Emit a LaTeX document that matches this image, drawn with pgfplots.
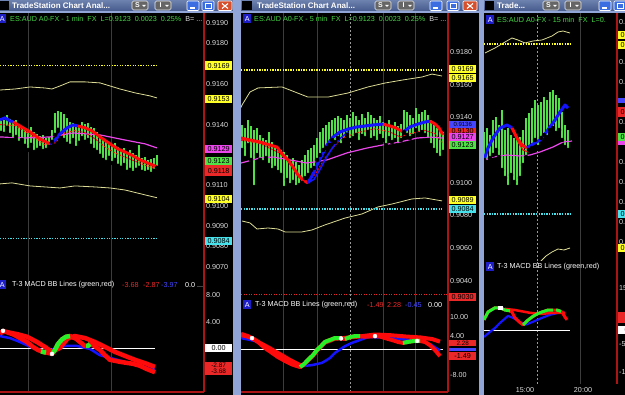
\documentclass[border=0pt]{standalone}
\usepackage{fontspec}
\setmainfont{Liberation Sans}
\usepackage{pgfplots}
\pgfplotsset{compat=1.18}

\definecolor{bargreen}{RGB}{80,225,70}
\definecolor{tred}{RGB}{255,10,10}
\definecolor{tblue}{RGB}{20,20,255}
\definecolor{mag}{RGB}{235,70,235}
\definecolor{band}{RGB}{220,220,150}
\definecolor{ydot}{RGB}{255,255,40}
\definecolor{cdot}{RGB}{70,225,235}
\definecolor{axred}{RGB}{170,20,20}
\definecolor{tickgray}{RGB}{220,220,220}
\definecolor{gridgray}{RGB}{60,60,60}
\definecolor{hdrgreen}{RGB}{70,215,70}
\definecolor{frame}{RGB}{145,165,215}
\definecolor{tbtop}{RGB}{110,130,175}
\definecolor{tbbot}{RGB}{70,90,140}
\definecolor{winblue}{RGB}{60,110,225}
\definecolor{winred}{RGB}{215,80,45}
\definecolor{lblred}{RGB}{235,40,40}
\definecolor{lblblue}{RGB}{70,70,255}
\definecolor{boxblue}{RGB}{30,30,200}
\definecolor{macdgreen}{RGB}{40,240,40}

\newcommand{\tf}{\fontsize{7.2}{8}\selectfont}

\pgfplotsset{
 tsbase/.style={
  scale only axis, anchor=north west,
  axis x line*=bottom, axis y line*=right,
  x axis line style={draw=none},
  y axis line style={draw=axred, line width=1.2pt},
  major tick length=0pt, minor tick length=0pt,
  xticklabels={},
  xmajorgrids, major x grid style={gridgray, line width=0.6pt},
  xminorgrids, minor x grid style={white!60!black, dash pattern=on 2pt off 2pt, line width=0.6pt},
  ytick style={draw=none}, xtick style={draw=none},
  yticklabel style={text=tickgray, font=\tf, anchor=west, inner sep=1pt, xshift=1pt},
  scaled y ticks=false,
  /pgf/number format/assume math mode=true,
 },
 price/.style={tsbase, yticklabel style={/pgf/number format/fixed, /pgf/number format/fixed zerofill, /pgf/number format/precision=4}},
 macd/.style={tsbase, yticklabel style={/pgf/number format/fixed, /pgf/number format/fixed zerofill, /pgf/number format/precision=2}},
 ohlc/.style={only marks, mark=none, forget plot, error bars/.cd, y dir=plus, y explicit, error mark=none, error bar style={draw=bargreen, line width=#1}},
}
\tikzset{lbl/.style={anchor=west, minimum width=27pt, minimum height=8.5pt, inner sep=0pt, font=\tf, text=black}}

\newcommand{\sbtn}[2]{\begin{scope}[shift={(#1pt,0pt)}]
 \draw[white!85!gray, fill=gray!80!black, rounded corners=1.5pt, line width=0.6pt] (0pt,-1pt) rectangle (16pt,-10pt);
 \node[text=white, font=\fontsize{7}{7}\selectfont\bfseries, inner sep=0pt] at (5.5pt,-5.5pt) {#2};
 \fill[white] (10pt,-4.8pt) -- (14pt,-4.8pt) -- (12pt,-7pt) -- cycle;
\end{scope}}
\newcommand{\minbtn}[1]{\begin{scope}[shift={(#1pt,0pt)}]
 \draw[white, fill=winblue, rounded corners=1pt, line width=0.6pt] (0pt,-1pt) rectangle (12pt,-10.5pt);
 \fill[white] (3pt,-7.3pt) rectangle (8pt,-8.6pt);
\end{scope}}
\newcommand{\maxbtn}[1]{\begin{scope}[shift={(#1pt,0pt)}]
 \draw[white, fill=winblue, rounded corners=1pt, line width=0.6pt] (0pt,-1pt) rectangle (12pt,-10.5pt);
 \draw[white, line width=0.7pt] (3pt,-3.2pt) rectangle (9pt,-8.5pt);
 \draw[white, line width=1.2pt] (3pt,-3.6pt) -- (9pt,-3.6pt);
\end{scope}}
\newcommand{\closebtn}[1]{\begin{scope}[shift={(#1pt,0pt)}]
 \draw[white, fill=winred, rounded corners=1pt, line width=0.6pt] (0pt,-1pt) rectangle (14pt,-10.5pt);
 \draw[white, line width=1.1pt] (4pt,-3.5pt) -- (10pt,-8.5pt) (10pt,-3.5pt) -- (4pt,-8.5pt);
\end{scope}}
\newcommand{\abox}[2]{\node[fill=boxblue, text=white, font=\tf, inner sep=0pt, minimum width=8pt, minimum height=9pt, anchor=west] at (#1pt,#2pt) {A};}

\begin{document}
\begin{tikzpicture}
\useasboundingbox (0pt,0pt) rectangle (625pt,-395pt);
\begin{scope}
\clip (0pt,0pt) rectangle (625pt,-395pt);
\fill[black] (0pt,0pt) rectangle (625pt,-395pt);

%================ PANEL 1 PRICE =================
\begin{axis}[price, at={(0pt,-13pt)}, width=204pt, height=266pt,
  xmin=0, xmax=204, ymin=0.90640, ymax=0.91949,
  ytick={0.9070,0.9080,0.9090,0.9100,0.9110,0.9140,0.9160,0.9180,0.9190},
  xtick={28,111}]
\addplot[ohlc=1.4pt] table[x=x, y=lo, y error expr=\thisrow{hi}-\thisrow{lo}] {
x lo hi
1 0.91359 0.91433
4 0.91354 0.91423
7 0.91384 0.91447
10 0.91349 0.91428
13 0.91324 0.91413
16 0.91339 0.91423
19 0.91310 0.91403
22 0.91324 0.91393
25 0.91295 0.91384
28 0.91275 0.91374
31 0.91300 0.91388
34 0.91265 0.91364
37 0.91275 0.91354
40 0.91285 0.91344
43 0.91270 0.91349
46 0.91275 0.91334
49 0.91290 0.91339
52 0.91315 0.91374
55 0.91349 0.91457
58 0.91374 0.91467
61 0.91334 0.91462
64 0.91324 0.91452
67 0.91305 0.91433
70 0.91295 0.91413
73 0.91324 0.91408
76 0.91285 0.91393
79 0.91310 0.91398
82 0.91334 0.91413
85 0.91315 0.91403
88 0.91324 0.91408
91 0.91295 0.91388
94 0.91275 0.91384
97 0.91265 0.91364
100 0.91246 0.91349
103 0.91226 0.91334
106 0.91216 0.91324
109 0.91236 0.91315
112 0.91211 0.91300
115 0.91226 0.91310
118 0.91197 0.91290
121 0.91187 0.91275
124 0.91201 0.91285
127 0.91167 0.91265
130 0.91177 0.91275
133 0.91162 0.91260
136 0.91177 0.91251
139 0.91187 0.91300
142 0.91167 0.91236
145 0.91162 0.91241
148 0.91167 0.91226
151 0.91157 0.91231
154 0.91172 0.91236
157 0.91187 0.91251
};
\addplot[band, line width=0.8pt] coordinates {(0,0.91570)(15,0.91575)(30,0.91585)(45,0.91580)(52,0.91575)(60,0.91590)(70,0.91610)(85,0.91610)(100,0.91605)(110,0.91590)(120,0.91575)(135,0.91556)(150,0.91541)(157,0.91531)};
\addplot[band, line width=0.8pt] coordinates {(0,0.91108)(12,0.91113)(30,0.91098)(45,0.91093)(60,0.91088)(75,0.91098)(95,0.91093)(110,0.91088)(125,0.91078)(140,0.91060)(150,0.91048)(157,0.91040)};
\addplot[ydot, line width=1.6pt, dash pattern=on 1.3pt off 1.3pt] coordinates {(0,0.9169)(157,0.9169)};
\addplot[cdot, line width=1.6pt, dash pattern=on 1.3pt off 1.3pt] coordinates {(0,0.9084)(157,0.9084)};
\addplot[mag, line width=1.2pt] coordinates {(0,0.91339)(25,0.91334)(50,0.91339)(73,0.91359)(100,0.91349)(125,0.91324)(145,0.91305)(157,0.91285)};
\addplot[tred, line width=1pt, dash pattern=on 2pt off 1.5pt] coordinates {(0,0.91400)(15,0.91395)(30,0.91350)(45,0.91300)(55,0.91310)(65,0.91360)(75,0.91370)(85,0.91360)(95,0.91330)(105,0.91290)(115,0.91260)(125,0.91240)(135,0.91220)(145,0.91200)(157,0.91180)};
\addplot[tblue, line width=3pt, line join=round] coordinates {(0,0.91423)(5,0.91433)(10,0.91418)(13,0.91413)};
\addplot[tred, line width=3pt, line join=round] coordinates {(13,0.91413)(20,0.91393)(30,0.91364)(40,0.91329)(50,0.91305)};
\addplot[tblue, line width=3pt, line join=round] coordinates {(50,0.91305)(55,0.91324)(60,0.91354)(67,0.91384)(73,0.91398)(78,0.91393)};
\addplot[tred, line width=3pt, line join=round] coordinates {(78,0.91393)(85,0.91384)(92,0.91369)(100,0.91339)(110,0.91305)(118,0.91280)(125,0.91265)(133,0.91246)(140,0.91226)(150,0.91206)(157,0.91192)};
\coordinate (a1) at (axis cs:205,0.9169);
\coordinate (a2) at (axis cs:205,0.91526);
\coordinate (a3) at (axis cs:205,0.91280);
\coordinate (a4) at (axis cs:205,0.91221);
\coordinate (a5) at (axis cs:205,0.91172);
\coordinate (a6) at (axis cs:205,0.91034);
\coordinate (a7) at (axis cs:205,0.90828);
\end{axis}

%================ PANEL 1 MACD =================
\begin{axis}[macd, at={(0pt,-279pt)}, width=204pt, height=113pt,
  xmin=0, xmax=204, ymin=-6.67, ymax=10.45, ytick={4,8}, xtick={28,111},
  x axis line style={draw=axred, line width=1.2pt}]
\addplot[white, line width=0.8pt] coordinates {(0,0)(155,0)};
\addplot[tblue, line width=2.5pt, line join=round] coordinates {(0,1.8)(10,1.5)(20,0.9)(33,0)(45,-0.45)(55,-0.15)(65,0.3)(77,0.3)(90,-0.15)(100,-1.1)(110,-1.5)(130,-2.3)(147,-3.0)(155,-3.3)};
\addplot[tred, line width=4.5pt, line join=round] coordinates {(7,2.4)(17,2.1)(27,1.7)(37,0.9)(45,0.15)(52,-0.6)(60,0)(68,1.5)(75,1.8)(85,1.5)(95,0.9)(105,0.15)(115,-0.6)(125,-1.2)(135,-1.8)(145,-2.3)(155,-2.87)};
\addplot[tred, line width=4.5pt, line join=round] coordinates {(0,2.1)(3,2.6)(7,2.4)(14,2.0)(20,1.5)(27,0.9)(33,0.15)(38,-0.3)(43,-0.6)(48,-0.75)(52,-0.9)(55,-0.3)(58,0.6)(62,1.3)(66,1.7)(70,1.8)(76,1.4)(80,0.9)(85,0.3)(88,0.3)(90,0.6)(93,0.45)(97,0)(100,-0.3)(105,-1.1)(110,-1.8)(120,-2.1)(133,-2.4)(140,-2.7)(147,-3.2)(155,-3.68)};
\addplot[macdgreen, line width=4.5pt, line join=round] coordinates {(41,-0.5)(43,-0.6)(46,-0.7)};
\addplot[macdgreen, line width=4.5pt, line join=round] coordinates {(53,-0.7)(55,-0.3)(58,0.6)(62,1.3)(66,1.7)(70,1.8)};
\addplot[macdgreen, line width=4.5pt, line join=round] coordinates {(86,0.3)(88,0.3)(90,0.6)};
\addplot[only marks, mark=*, mark size=2pt, white] coordinates {(3,2.6)(52,-0.9)};
\coordinate (m1) at (axis cs:205,0);
\coordinate (m2) at (axis cs:205,-3.1);
\end{axis}

%================ PANEL 2 PRICE =================
\begin{axis}[price, at={(241pt,-13pt)}, width=207pt, height=287pt,
  xmin=241, xmax=448, ymin=0.90281, ymax=0.92039,
  ytick={0.9040,0.9060,0.9080,0.9100,0.9140,0.9160,0.9180},
  xtick={283,317,383,415}, minor xtick={350}]
\addplot[ohlc=1.4pt] table[x=x, y=lo, y error expr=\thisrow{hi}-\thisrow{lo}] {
x lo hi
242 0.91200 0.91353
245 0.91151 0.91335
248 0.91230 0.91384
251 0.91139 0.91347
254 0.90973 0.91322
257 0.91169 0.91335
260 0.91139 0.91292
263 0.91126 0.91273
266 0.91151 0.91261
269 0.91108 0.91310
272 0.91077 0.91249
275 0.91090 0.91230
278 0.91065 0.91212
281 0.91047 0.91200
284 0.90967 0.91188
287 0.91016 0.91169
290 0.90985 0.91139
293 0.91004 0.91151
296 0.90973 0.91126
299 0.90985 0.91108
302 0.90998 0.91139
305 0.91028 0.91169
308 0.91047 0.91200
311 0.91077 0.91212
314 0.91090 0.91230
317 0.91139 0.91273
320 0.91169 0.91310
323 0.91200 0.91335
326 0.91212 0.91353
329 0.91230 0.91371
332 0.91261 0.91384
335 0.91249 0.91396
338 0.91273 0.91408
341 0.91230 0.91396
344 0.91261 0.91384
347 0.91292 0.91414
350 0.91261 0.91396
353 0.91273 0.91433
356 0.91292 0.91408
359 0.91249 0.91384
362 0.91286 0.91420
365 0.91273 0.91396
368 0.91310 0.91433
371 0.91261 0.91414
374 0.91273 0.91396
377 0.91249 0.91384
380 0.91286 0.91408
383 0.91261 0.91371
386 0.91230 0.91359
389 0.91273 0.91384
392 0.91249 0.91353
395 0.91261 0.91371
398 0.91230 0.91347
401 0.91261 0.91359
404 0.91310 0.91445
407 0.91292 0.91433
410 0.91273 0.91414
413 0.91286 0.91396
416 0.91322 0.91457
419 0.91298 0.91420
422 0.91310 0.91433
425 0.91292 0.91445
428 0.91261 0.91414
431 0.91230 0.91384
434 0.91200 0.91353
437 0.91169 0.91335
440 0.91151 0.91322
443 0.91188 0.91310
};
\addplot[band, line width=0.8pt] coordinates {(241,0.91460)(242,0.91475)(250,0.91555)(258,0.91580)(282,0.91586)(308,0.91524)(328,0.91524)(348,0.91549)(368,0.91586)(385,0.91610)(402,0.91628)(422,0.91647)(432,0.91665)(442,0.91653)};
\addplot[band, line width=0.8pt] coordinates {(242,0.90765)(250,0.90753)(257,0.90716)(268,0.90722)(278,0.90716)(285,0.90698)(302,0.90698)(312,0.90710)(325,0.90741)(345,0.90783)(362,0.90808)(378,0.90851)(392,0.90869)(412,0.90900)(425,0.90906)(442,0.90888)};
\addplot[ydot, line width=1.6pt, dash pattern=on 1.3pt off 1.3pt] coordinates {(241,0.9169)(442,0.9169)};
\addplot[cdot, line width=1.6pt, dash pattern=on 1.3pt off 1.3pt] coordinates {(241,0.9084)(442,0.9084)};
\addplot[lblred, line width=1pt, dash pattern=on 1pt off 1.5pt] coordinates {(241,0.90312)(448,0.90312)};
\addplot[mag, line width=1.2pt] coordinates {(241,0.91120)(260,0.91151)(273,0.91157)(290,0.91139)(307,0.91120)(327,0.91139)(347,0.91182)(367,0.91212)(383,0.91231)(400,0.91249)(417,0.91273)(430,0.91279)(443,0.91273)};
\addplot[tred, line width=1pt, dash pattern=on 2pt off 1.5pt] coordinates {(241,0.91260)(260,0.91240)(280,0.91180)(295,0.91080)(305,0.91000)(315,0.91050)(325,0.91150)(335,0.91230)(345,0.91280)(360,0.91310)(375,0.91330)(390,0.91310)(400,0.91280)(410,0.91300)(425,0.91320)(435,0.91300)(443,0.91240)};
\addplot[tblue, line width=1.5pt] coordinates {(308,0.90998)(314,0.91020)(320,0.91080)(326,0.91150)(332,0.91210)(340,0.91270)(348,0.91310)};
\addplot[tred, line width=3pt, line join=round] coordinates {(241,0.91273)(250,0.91261)(260,0.91249)(270,0.91230)(277,0.91218)(283,0.91169)(288,0.91139)(293,0.91096)(298,0.91047)(303,0.91016)(308,0.90998)};
\addplot[tblue, line width=3pt, line join=round] coordinates {(308,0.90998)(312,0.91041)(317,0.91108)(322,0.91169)(327,0.91230)(333,0.91279)(340,0.91310)(348,0.91328)(357,0.91341)(365,0.91347)(373,0.91353)(383,0.91359)};
\addplot[tred, line width=3pt, line join=round] coordinates {(383,0.91359)(390,0.91347)(396,0.91335)(403,0.91310)};
\addplot[tblue, line width=3pt, line join=round] coordinates {(403,0.91310)(410,0.91341)(418,0.91359)(425,0.91371)(430,0.91377)};
\addplot[tred, line width=3pt, line join=round] coordinates {(430,0.91377)(435,0.91359)(439,0.91335)(443,0.91292)};
\coordinate (b1) at (axis cs:449,0.91696);
\coordinate (b2) at (axis cs:449,0.91641);
\coordinate (b3) at (axis cs:449,0.91355);
\coordinate (b4) at (axis cs:449,0.91318);
\coordinate (b5) at (axis cs:449,0.91279);
\coordinate (b6) at (axis cs:449,0.91230);
\coordinate (b7) at (axis cs:449,0.90894);
\coordinate (b8) at (axis cs:449,0.90839);
\coordinate (b9) at (axis cs:449,0.90300);
\end{axis}

%================ PANEL 2 MACD =================
\begin{axis}[macd, at={(241pt,-300pt)}, width=207pt, height=92pt,
  xmin=241, xmax=448, ymin=-13.35, ymax=15.22, ytick={-8,4,10},
  xtick={283,317,383,415}, minor xtick={350},
  x axis line style={draw=axred, line width=1.2pt}]
\addplot[white, line width=0.8pt] coordinates {(241,0)(443,0)};
\addplot[tblue, line width=2.5pt, line join=round] coordinates {(241,3.4)(255,2.5)(265,0.9)(278,-2.2)(290,-4.3)(302,-5.3)(312,-5.0)(322,-4.3)(330,-2.8)(335,-1.2)(345,0.9)(352,1.9)(360,2.8)(368,3.7)(385,3.6)(400,3.1)(420,2.5)(430,1.5)(440,-0.45)};
\addplot[tred, line width=4pt, line join=round] coordinates {(241,4.7)(248,4.0)(260,1.9)(270,0.2)(280,-1.6)(290,-3.4)(302,-5.3)(308,-3.6)(313,-2.1)(317,-0.5)(321,0.7)(325,2.0)(330,2.6)(335,3.2)(340,3.3)(350,3.6)(360,3.9)(367,4.2)(375,4.5)(390,4.3)(405,3.9)(420,3.6)(432,3.1)(440,2.28)};
\addplot[tred, line width=4pt, line join=round] coordinates {(241,4.3)(246,4.0)(252,3.4)(258,2.2)(265,0.3)(272,-1.2)(278,-2.5)(285,-3.7)(292,-4.8)(300,-5.6)(304,-4.7)(308,-3.4)(313,-1.9)(317,-0.3)(321,0.9)(325,2.2)(330,2.8)(335,3.4)(340,3.4)(345,3.1)(350,3.7)(355,4.0)(360,4.0)(365,3.8)(370,3.9)(375,4.0)(380,3.9)(385,3.4)(392,2.8)(398,2.2)(403,1.9)(408,2.2)(414,2.5)(420,2.5)(425,2.2)(430,1.2)(435,-0.3)(440,-2.2)};
\addplot[macdgreen, line width=4pt, line join=round] coordinates {(300,-5.6)(304,-4.7)(308,-3.4)(313,-1.9)(317,-0.3)(321,0.9)(325,2.2)(330,2.8)(335,3.4)(340,3.4)};
\addplot[macdgreen, line width=4pt, line join=round] coordinates {(345,3.1)(350,3.7)(355,4.0)(360,4.0)};
\addplot[macdgreen, line width=4pt, line join=round] coordinates {(403,1.9)(408,2.2)(414,2.5)(420,2.5)};
\addplot[only marks, mark=*, mark size=2pt, white] coordinates {(252,3.4)(341,3.3)(375,4.0)(417,2.5)};
\coordinate (n1) at (axis cs:449,1.8);
\coordinate (n2) at (axis cs:449,-0.15);
\coordinate (n3) at (axis cs:449,-2.17);
\end{axis}

%================ PANEL 3 PRICE =================
\begin{axis}[price, at={(484pt,-13pt)}, width=133pt, height=248pt,
  xmin=484, xmax=617, ymin=0.90605, ymax=0.91845,
  ytick={0.9070,0.9080,0.9090,0.9100,0.9110,0.9130,0.9150,0.9160,0.9180},
  xtick={580}, minor xtick={537}]
\addplot[ohlc=1.8pt] table[x=x, y=lo, y error expr=\thisrow{hi}-\thisrow{lo}] {
x lo hi
484 0.91110 0.91250
487 0.91100 0.91270
490 0.91120 0.91235
493 0.91135 0.91310
496 0.91160 0.91325
499 0.91125 0.91285
502 0.91060 0.91360
505 0.91020 0.91260
508 0.90975 0.91270
511 0.91035 0.91235
514 0.91000 0.91220
517 0.90975 0.91210
520 0.91020 0.91225
523 0.91085 0.91260
526 0.91125 0.91320
529 0.91160 0.91345
532 0.91170 0.91370
535 0.91210 0.91410
538 0.91175 0.91385
541 0.91220 0.91400
544 0.91235 0.91425
547 0.91225 0.91410
550 0.91260 0.91450
553 0.91270 0.91460
556 0.91245 0.91435
559 0.91260 0.91420
562 0.91210 0.91350
565 0.91175 0.91285
568 0.91160 0.91260
};
\addplot[band, line width=0.8pt] coordinates {(485,0.91645)(495,0.91670)(505,0.91700)(512,0.91720)(518,0.91710)(525,0.91695)(533,0.91705)(542,0.91710)(552,0.91730)(558,0.91750)(563,0.91755)(570,0.91745)};
\addplot[band, line width=0.8pt] coordinates {(535,0.90570)(540,0.90600)(546,0.90630)(552,0.90650)(558,0.90665)(564,0.90660)(570,0.90670)};
\addplot[ydot, line width=1.6pt, dash pattern=on 1.3pt off 1.3pt] coordinates {(484,0.9169)(570,0.9169)};
\addplot[cdot, line width=1.6pt, dash pattern=on 1.3pt off 1.3pt] coordinates {(484,0.9084)(570,0.9084)};
\addplot[mag, line width=1.2pt] coordinates {(484,0.91110)(493,0.91125)(507,0.91135)(520,0.91130)(530,0.91135)(540,0.91150)(553,0.91175)(563,0.91200)(572,0.91205)};
\addplot[tred, line width=1.2pt] coordinates {(512,0.91270)(518,0.91200)(523,0.91160)(528,0.91150)(532,0.91170)};
\addplot[tblue, line width=3pt, line join=round] coordinates {(484,0.91110)(488,0.91170)(493,0.91220)(500,0.91270)(507,0.91285)(512,0.91270)};
\addplot[tred, line width=3pt, line join=round] coordinates {(512,0.91270)(517,0.91220)(522,0.91185)(527,0.91170)};
\addplot[tblue, line width=3pt, line join=round] coordinates {(527,0.91170)(533,0.91190)(540,0.91210)(545,0.91240)(550,0.91275)(555,0.91310)(560,0.91350)(565,0.91385)(568,0.91370)};
\coordinate (c1) at (axis cs:618,0.91735);
\coordinate (c2) at (axis cs:618,0.91685);
\coordinate (c3) at (axis cs:618,0.91405);
\coordinate (c4) at (axis cs:618,0.91350);
\coordinate (c5) at (axis cs:618,0.91225);
\coordinate (c6) at (axis cs:618,0.91195);
\coordinate (c7) at (axis cs:618,0.90840);
\coordinate (c8) at (axis cs:618,0.90670);
\end{axis}

%================ PANEL 3 MACD =================
\begin{axis}[macd, at={(484pt,-261pt)}, width=133pt, height=123pt,
  xmin=484, xmax=617, ymin=-19.3, ymax=24.6, ytick={-15,-5,15},
  xtick={580}, minor xtick={537},
  extra x ticks={525,583}, extra x tick labels={15:00,20:00},
  extra x tick style={xmajorgrids=false, xticklabel style={text=tickgray, font=\tf}}]
\addplot[white, line width=0.8pt] coordinates {(484,0)(570,0)};
\addplot[tblue, line width=2.2pt, line join=round] coordinates {(484,-2.5)(490,-0.7)(495,0.7)(500,2.5)(508,5.0)(513,4.3)(520,2.9)(525,1.8)(533,2.9)(542,4.3)(550,5.4)(558,6.1)(565,6.1)};
\addplot[tred, line width=2.5pt, line join=round] coordinates {(505,7.5)(515,7.1)(530,6.1)(542,5.7)(552,6.1)(565,6.1)};
\addplot[tred, line width=3pt, line join=round] coordinates {(484,3.6)(488,6.4)(495,7.9)(500,7.9)(505,7.1)(510,6.8)(512,6.4)(515,4.3)(519,2.9)(523,1.8)(527,3.2)(532,4.6)(537,5.7)(542,6.4)(548,7.1)(553,7.1)(557,7.1)(562,6.4)(565,4.6)(567,3.6)};
\addplot[macdgreen, line width=3pt, line join=round] coordinates {(484,3.6)(488,6.4)(495,7.9)(500,7.9)(505,7.1)(510,6.8)};
\addplot[macdgreen, line width=3pt, line join=round] coordinates {(523,1.8)(527,3.2)(532,4.6)(537,5.7)(542,6.4)(548,7.1)(553,7.1)};
\addplot[macdgreen, line width=3pt, line join=round] coordinates {(556,7.1)(558,7.0)(561,6.6)};
\addplot[only marks, mark=square*, mark size=1.8pt, white] coordinates {(500,7.9)};
\coordinate (o1) at (axis cs:618,4.6);
\coordinate (o2) at (axis cs:618,0);
\end{axis}

%================ LABEL BOXES =================
\node[lbl, fill=ydot] at (a1) {0.9169};
\node[lbl, fill=ydot] at (a2) {0.9153};
\node[lbl, fill=mag] at (a3) {0.9129};
\node[lbl, fill=lblred, minimum height=11pt] at (a5) {0.9118};
\node[lbl, fill=bargreen] at (a4) {0.9123};
\node[lbl, fill=ydot] at (a6) {0.9104};
\node[lbl, fill=cdot] at (a7) {0.9084};
\node[lbl, fill=white] at (m1) {0.00};
\node[lbl, fill=lblred, minimum height=13pt, align=center, font=\fontsize{6.5}{6.5}\selectfont] at (m2) {-2.87\\-3.68};

\node[lbl, fill=ydot] at (b1) {0.9169};
\node[lbl, fill=ydot] at (b2) {0.9165};
\node[lbl, fill=lblred] at (b4) {0.9130};
\node[lbl, fill=lblblue, minimum height=6.5pt, font=\fontsize{6}{6}\selectfont] at (b3) {0.9136};
\node[lbl, fill=mag] at (b5) {0.9127};
\node[lbl, fill=bargreen] at (b6) {0.9123};
\node[lbl, fill=ydot] at (b7) {0.9089};
\node[lbl, fill=cdot] at (b8) {0.9084};
\node[lbl, fill=lblred] at (b9) {0.9030};
\node[lbl, fill=lblred, minimum height=6.5pt, font=\fontsize{6.3}{6.3}\selectfont] at (n1) {2.28};
\node[lbl, fill=lblblue, minimum height=3pt] at (n2) {};
\node[lbl, fill=lblred] at (n3) {-1.49};

\node[lbl, fill=ydot] at (c1) {0.9174};
\node[lbl, fill=ydot] at (c2) {0.9169};
\node[lbl, fill=lblblue, minimum height=5pt] at (c3) {};
\node[lbl, fill=lblred, minimum height=10pt] at (c4) {0.9135};
\node[lbl, fill=bargreen] at (c5) {0.9123};
\node[lbl, fill=mag, minimum height=4pt] at (c6) {};
\node[lbl, fill=cdot] at (c7) {0.9084};
\node[lbl, fill=ydot] at (c8) {0.9067};
\node[lbl, fill=lblred, minimum height=11pt, align=left, font=\fontsize{6.5}{6.5}\selectfont] at (o1) {R\\4.6};
\node[lbl, fill=white] at (o2) {0.00};

%================ WINDOW CHROME =================
\shade[top color=tbtop, bottom color=tbbot] (0pt,0pt) rectangle (233pt,-11pt);
\shade[top color=tbtop, bottom color=tbbot] (241pt,0pt) rectangle (479pt,-11pt);
\shade[top color=tbtop, bottom color=tbbot] (484pt,0pt) rectangle (625pt,-11pt);
\fill[frame] (0pt,-11pt) rectangle (625pt,-13pt);
\fill[frame] (233pt,0pt) rectangle (241pt,-395pt);
\fill[frame] (479pt,0pt) rectangle (484pt,-395pt);
\fill[black] (0pt,-1pt) rectangle (9pt,-10pt);
\fill[black] (242pt,-1pt) rectangle (252pt,-10pt);
\fill[black] (485pt,-1pt) rectangle (494pt,-10pt);
\node[anchor=west, text=white, font=\fontsize{8}{9}\selectfont\bfseries, inner sep=0pt] at (12pt,-5.5pt) {TradeStation Chart Anal...};
\node[anchor=west, text=white, font=\fontsize{8}{9}\selectfont\bfseries, inner sep=0pt] at (257pt,-5.5pt) {TradeStation Chart Anal...};
\node[anchor=west, text=white, font=\fontsize{8}{9}\selectfont\bfseries, inner sep=0pt] at (497pt,-5.5pt) {Trade...};
\sbtn{132}{S}\sbtn{155}{I}\minbtn{187}\maxbtn{202}\closebtn{218}
\sbtn{375}{S}\sbtn{398}{I}\minbtn{430}\maxbtn{447}\closebtn{463}
\sbtn{543}{S}\sbtn{565}{I}\minbtn{599}\maxbtn{614}

% headers
\abox{-2}{-19}
\node[anchor=west, inner sep=0pt, font=\tf, text=hdrgreen] at (10pt,-19pt) {ES:AUD A0-FX - 1 min\ \ FX\ \ L=0.9123\ \ 0.0023\ \ 0.25\%\ \ \textcolor{tickgray}{B= ...}};
\abox{243}{-19}
\node[anchor=west, inner sep=0pt, font=\tf, text=hdrgreen] at (254pt,-19pt) {ES:AUD A0-FX - 5 min\ \ FX\ \ L=0.9123\ \ 0.0023\ \ 0.25\%\ \ \textcolor{tickgray}{B= ...}};
\abox{486}{-20}
\node[anchor=west, inner sep=0pt, font=\tf, text=hdrgreen] at (497pt,-20pt) {ES:AUD A0-FX - 15 min\ \ FX\ \ L=0.};

\abox{-2}{-285}
\node[anchor=west, inner sep=0pt, font=\tf, text=white] at (12pt,-285pt) {T-3 MACD BB Lines (green,red)};
\node[anchor=west, inner sep=0pt, font=\tf, text=lblred] at (122pt,-285pt) {-3.68};
\node[anchor=west, inner sep=0pt, font=\tf, text=lblred] at (143pt,-285pt) {-2.87};
\node[anchor=west, inner sep=0pt, font=\tf, text=lblblue] at (161pt,-285pt) {-3.97};
\node[anchor=west, inner sep=0pt, font=\tf, text=white] at (185pt,-285pt) {0.0 ...};

\abox{243}{-305}
\node[anchor=west, inner sep=0pt, font=\tf, text=white] at (255pt,-305pt) {T-3 MACD BB Lines (green,red)};
\node[anchor=west, inner sep=0pt, font=\tf, text=lblred] at (367pt,-305pt) {-1.49};
\node[anchor=west, inner sep=0pt, font=\tf, text=lblred] at (387pt,-305pt) {2.28};
\node[anchor=west, inner sep=0pt, font=\tf, text=lblblue] at (405pt,-305pt) {-0.45};
\node[anchor=west, inner sep=0pt, font=\tf, text=white] at (428pt,-305pt) {0.00};

\abox{486}{-267}
\node[anchor=west, inner sep=0pt, font=\tf, text=white] at (497pt,-267pt) {T-3 MACD BB Lines (green,red)};
\end{scope}
\end{tikzpicture}
\end{document}
